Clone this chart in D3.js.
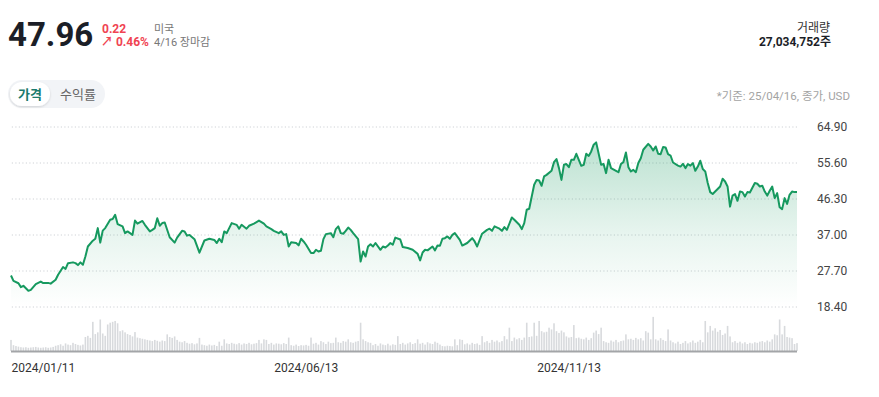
<!DOCTYPE html>
<html>
<head>
<meta charset="utf-8">
<script src="https://cdn.jsdelivr.net/npm/d3@7"></script>
<style>
  body { margin: 0; background: #fff; font-family: Roboto, "Noto Sans CJK KR", sans-serif; }
  svg text { font-family: Roboto, "Noto Sans CJK KR", sans-serif; }
</style>
</head>
<body>
<div id="chart"></div>
<script>
// trading session number counted from 2024/01/11, and close price (USD)
const sessions = [
  0, 1, 3, 4, 5, 7, 8, 10, 12, 13, 15, 16, 18, 19, 21, 22, 23, 25, 26, 27,
  28, 29, 30, 31, 33, 34, 35, 36, 37, 38, 40, 41, 42, 43, 45, 46, 47, 49, 50, 51,
  53, 54, 56, 57, 58, 59, 60, 61, 62, 64, 66, 67, 69, 70, 71, 72, 74, 76, 78, 80,
  82, 83, 84, 85, 86, 87, 89, 91, 92, 93, 95, 96, 98, 100, 102, 103, 105, 106, 108, 109,
  110, 111, 112, 113, 115, 116, 117, 118, 119, 121, 122, 123, 124, 125, 126, 127, 129, 130, 131, 132,
  133, 134, 135, 136, 137, 138, 140, 141, 142, 143, 144, 145, 146, 147, 149, 150, 151, 152, 153, 154,
  155, 157, 158, 160, 162, 164, 165, 166, 167, 168, 170, 171, 172, 173, 174, 175, 176, 177, 178, 179,
  181, 182, 184, 186, 187, 188, 190, 192, 193, 194, 195, 197, 198, 199, 200, 202, 203, 205, 206, 207,
  208, 209, 211, 212, 213, 214, 215, 216, 218, 219, 220, 221, 222, 223, 224, 225, 226, 227, 228, 230,
  231, 232, 233, 234, 235, 236, 238, 239, 240, 241, 242, 244, 245, 246, 247, 248, 249, 250, 251, 252,
  253, 254, 255, 257, 258, 259, 260, 261, 262, 263, 264, 265, 266, 267, 269, 270, 271, 272, 273, 274,
  275, 276, 277, 278, 279, 280, 281, 282, 283, 284, 286, 287, 288, 289, 290, 291, 292, 293, 294, 295,
  296, 297, 298, 300, 301, 302, 303, 304, 305, 306, 307, 308, 309, 310, 311, 312, 313, 314, 315, 316,
  317
]
const closes = [
  26.4, 25.0, 24.4, 23.4, 23.75, 22.45, 22.7, 24.2, 24.85, 24.45, 24.5, 24.3, 25.3, 26.6, 28.6, 28.1, 29.6, 29.8, 29.6, 29.1,
  29.8, 29.2, 31.3, 33.9, 35.4, 35.9, 38.65, 34.9, 38.0, 38.65, 40.8, 41.0, 42.1, 39.7, 39.1, 37.35, 37.8, 36.9, 40.6, 39.8,
  40.5, 39.5, 37.8, 38.2, 38.65, 41.2, 39.25, 39.95, 40.1, 36.3, 34.9, 36.2, 37.95, 37.8, 36.7, 36.9, 35.8, 32.3, 35.45, 35.9,
  35.6, 34.8, 35.9, 35.0, 37.8, 37.35, 39.95, 39.5, 38.5, 39.5, 38.5, 39.25, 39.8, 40.6, 39.8, 39.1, 38.4, 37.95, 37.35, 37.8,
  36.9, 37.1, 33.9, 35.0, 34.8, 34.2, 35.9, 35.2, 34.35, 32.2, 32.2, 33.05, 32.6, 32.8, 35.8, 37.1, 37.35, 36.3, 38.4, 39.1,
  37.35, 37.2, 37.95, 38.8, 38.2, 37.35, 35.8, 30.0, 32.6, 31.3, 33.9, 34.5, 33.9, 34.8, 33.05, 33.9, 33.65, 34.15, 34.8, 34.35,
  36.2, 35.7, 33.75, 33.5, 33.05, 32.0, 30.3, 32.35, 33.05, 32.9, 33.9, 32.9, 34.15, 34.1, 35.9, 36.05, 36.5, 35.9, 36.9, 37.35,
  35.6, 34.15, 34.8, 36.05, 35.2, 33.9, 37.2, 38.2, 38.5, 37.95, 39.1, 38.5, 37.95, 38.9, 38.2, 41.4, 40.8, 39.5, 38.4, 39.95,
  43.4, 43.65, 49.85, 51.1, 50.95, 49.6, 52.0, 52.4, 53.45, 55.7, 56.5, 54.15, 51.1, 55.0, 55.2, 54.4, 56.3, 56.3, 57.85, 54.75,
  55.0, 57.85, 57.3, 58.45, 60.2, 60.8, 55.0, 55.2, 52.85, 56.3, 54.15, 53.45, 53.1, 55.2, 55.7, 58.2, 54.4, 53.3, 53.7, 53.1,
  55.45, 56.7, 58.9, 60.4, 59.75, 58.7, 59.75, 57.85, 57.75, 59.6, 59.5, 57.75, 57.4, 55.6, 54.8, 54.55, 55.25, 54.15, 55.2, 54.8,
  55.45, 53.45, 54.55, 56.05, 53.9, 53.3, 50.3, 47.95, 47.45, 48.1, 49.4, 51.4, 50.7, 49.4, 44.2, 47.05, 47.45, 45.7, 48.1, 47.95,
  46.8, 47.95, 47.85, 50.3, 50.1, 49.4, 49.6, 48.1, 47.05, 48.3, 49.4, 46.4, 47.7, 44.05, 43.55, 46.4, 44.9, 47.25, 48.1, 47.95,
  47.96
]
// daily volume, millions of shares, one per session 0..317
const volumes = [
  38, 20, 17, 15, 13, 12, 13, 11, 12, 13, 14, 12, 11, 12, 13, 11, 12, 14, 18, 20,
  23, 18, 26, 22, 20, 28, 24, 21, 19, 22, 48, 52, 45, 100, 58, 64, 108, 60, 52, 91,
  97, 100, 103, 95, 68, 71, 64, 58, 55, 50, 65, 46, 44, 42, 40, 38, 36, 34, 38, 35,
  32, 36, 34, 57, 48, 45, 50, 38, 32, 30, 34, 28, 25, 27, 23, 26, 45, 22, 20, 18,
  22, 19, 21, 17, 32, 18, 40, 26, 24, 28, 25, 23, 27, 22, 26, 24, 28, 23, 25, 27,
  38, 26, 40, 38, 24, 28, 22, 26, 25, 23, 27, 24, 46, 20, 18, 22, 17, 20, 19, 21,
  18, 46, 25, 28, 22, 34, 30, 24, 32, 27, 28, 46, 30, 28, 34, 32, 40, 30, 28, 32,
  34, 97, 40, 34, 30, 28, 20, 24, 18, 26, 22, 20, 25, 19, 23, 21, 51, 24, 28, 22,
  26, 30, 24, 27, 40, 25, 28, 22, 30, 26, 24, 32, 28, 22, 17, 16, 18, 17, 16, 40,
  20, 40, 38, 23, 26, 22, 28, 24, 26, 21, 51, 30, 34, 28, 38, 32, 36, 30, 34, 51,
  40, 80, 34, 46, 40, 44, 38, 46, 97, 48, 50, 97, 52, 103, 68, 64, 66, 80, 74, 95,
  68, 62, 70, 64, 50, 46, 48, 89, 44, 46, 42, 40, 46, 38, 44, 63, 70, 58, 80, 34,
  30, 28, 36, 32, 38, 30, 34, 36, 57, 40, 42, 38, 45, 40, 44, 36, 68, 63, 40, 117,
  40, 36, 44, 38, 34, 74, 36, 30, 26, 32, 24, 28, 34, 26, 30, 36, 28, 32, 38, 30,
  103, 64, 86, 70, 78, 66, 72, 55, 60, 86, 50, 30, 34, 28, 32, 26, 30, 24, 28, 26,
  30, 28, 32, 34, 30, 36, 32, 40, 57, 54, 108, 57, 86, 48, 46, 44, 24, 27
]
const yTicks = [18.40, 27.70, 37.00, 46.30, 55.60, 64.90]
const xTickSessions = [0, 106, 212]
const xTickLabels = ['2024/01/11', '2024/06/13', '2024/11/13']

const W = 879, H = 397
const green = '#16995f'

const svg = d3.select('#chart').append('svg')
  .attr('width', W)
  .attr('height', H)

const x = d3.scaleLinear().domain([0, 317]).range([11, 797])
const y = d3.scaleLinear().domain([18.40, 64.90]).range([306.5, 126.5])
const vy = d3.scaleLinear().domain([0, 120]).range([351, 316])

// header
const head = svg.append('g')
head.append('text')
  .attr('x', 8).attr('y', 46)
  .style('font-size', '33px').style('font-weight', 700)
  .attr('fill', '#1b1e27')
  .text('47.96')
head.append('text')
  .attr('x', 102).attr('y', 33)
  .style('font-size', '12px').style('font-weight', 700)
  .attr('fill', '#f04452')
  .text('0.22')
head.append('text')
  .attr('x', 101).attr('y', 46)
  .style('font-size', '12px').style('font-weight', 700)
  .attr('fill', '#f04452')
  .text('↗ 0.46%')
head.append('text')
  .attr('x', 154).attr('y', 33)
  .style('font-size', '11px')
  .attr('fill', '#777')
  .text('미국')
head.append('text')
  .attr('x', 154).attr('y', 46)
  .style('font-size', '11px')
  .attr('fill', '#777')
  .text('4/16 장마감')
head.append('text')
  .attr('x', 830).attr('y', 32)
  .attr('text-anchor', 'end')
  .style('font-size', '12px')
  .attr('fill', '#333')
  .text('거래량')
head.append('text')
  .attr('x', 831).attr('y', 46)
  .attr('text-anchor', 'end')
  .style('font-size', '12px').style('font-weight', 700)
  .attr('fill', '#1b1e27')
  .text('27,034,752주')

// tabs
const defs = svg.append('defs')
defs.append('filter').attr('id', 'shadow')
  .attr('x', '-30%').attr('y', '-30%').attr('width', '160%').attr('height', '160%')
  .append('feDropShadow')
  .attr('dx', 0).attr('dy', 1).attr('stdDeviation', 1.2)
  .attr('flood-color', '#000').attr('flood-opacity', 0.15)
const tabs = svg.append('g')
tabs.append('rect')
  .attr('x', 8).attr('y', 80).attr('width', 97).attr('height', 28).attr('rx', 14)
  .attr('fill', '#f2f4f7')
tabs.append('rect')
  .attr('x', 10).attr('y', 82).attr('width', 40).attr('height', 24).attr('rx', 12)
  .attr('fill', '#fff')
  .attr('filter', 'url(#shadow)')
tabs.append('text')
  .attr('x', 30).attr('y', 98.5)
  .attr('text-anchor', 'middle')
  .style('font-size', '13px').style('font-weight', 700)
  .attr('fill', '#1a7a6c')
  .text('가격')
tabs.append('text')
  .attr('x', 78).attr('y', 98.5)
  .attr('text-anchor', 'middle')
  .style('font-size', '13px')
  .attr('fill', '#666')
  .text('수익률')
svg.append('text')
  .attr('x', 850).attr('y', 100)
  .attr('text-anchor', 'end')
  .style('font-size', '11.5px')
  .attr('fill', '#a3a3a3')
  .text('*기준: 25/04/16, 종가, USD')

// y grid + labels
const yAxis = svg.append('g')
  .attr('transform', 'translate(797,0)')
  .call(d3.axisRight(y).tickValues(yTicks).tickFormat(d3.format('.2f'))
    .tickSize(-786).tickPadding(20))
yAxis.select('.domain').remove()
yAxis.selectAll('line')
  .attr('stroke', '#cfd2d6')
  .attr('stroke-dasharray', '1.2,2.3')
yAxis.selectAll('text')
  .attr('fill', '#444')
  .style('font-size', '12px')

// area + line
const grad = defs.append('linearGradient')
  .attr('id', 'fade')
  .attr('gradientUnits', 'userSpaceOnUse')
  .attr('x1', 0).attr('x2', 0)
  .attr('y1', y(64.9)).attr('y2', y(18.4))
grad.append('stop').attr('offset', 0).attr('stop-color', green).attr('stop-opacity', 0.32)
grad.append('stop').attr('offset', 0.6).attr('stop-color', green).attr('stop-opacity', 0.1)
grad.append('stop').attr('offset', 1).attr('stop-color', green).attr('stop-opacity', 0)

const pts = sessions.map((s, i) => [s, closes[i]])

svg.append('path')
  .datum(pts)
  .attr('fill', 'url(#fade)')
  .attr('d', d3.area()
    .x(d => x(d[0]))
    .y0(y(18.4))
    .y1(d => y(d[1])))

svg.append('path')
  .datum(pts)
  .attr('fill', 'none')
  .attr('stroke', green)
  .attr('stroke-width', 2)
  .attr('stroke-linejoin', 'round')
  .attr('d', d3.line()
    .x(d => x(d[0]))
    .y(d => y(d[1])))

// volume
svg.append('g')
  .selectAll('rect')
  .data(volumes)
  .join('rect')
  .attr('x', (d, i) => x(i) - 0.8)
  .attr('width', 1.6)
  .attr('y', d => vy(d))
  .attr('height', d => vy(0) - vy(d))
  .attr('fill', '#d8dadd')
svg.append('line')
  .attr('x1', 11).attr('x2', 797)
  .attr('y1', 351.5).attr('y2', 351.5)
  .attr('stroke', '#a3a5a8')
  .attr('stroke-width', 2)

// x labels
const xAxis = svg.append('g')
  .attr('transform', 'translate(0,363)')
  .call(d3.axisBottom(x).tickValues(xTickSessions)
    .tickFormat((d, i) => xTickLabels[i])
    .tickSize(0).tickPadding(0))
xAxis.select('.domain').remove()
xAxis.selectAll('text')
  .attr('text-anchor', 'start')
  .attr('fill', '#333')
  .style('font-size', '12px')
</script>
</body>
</html>
